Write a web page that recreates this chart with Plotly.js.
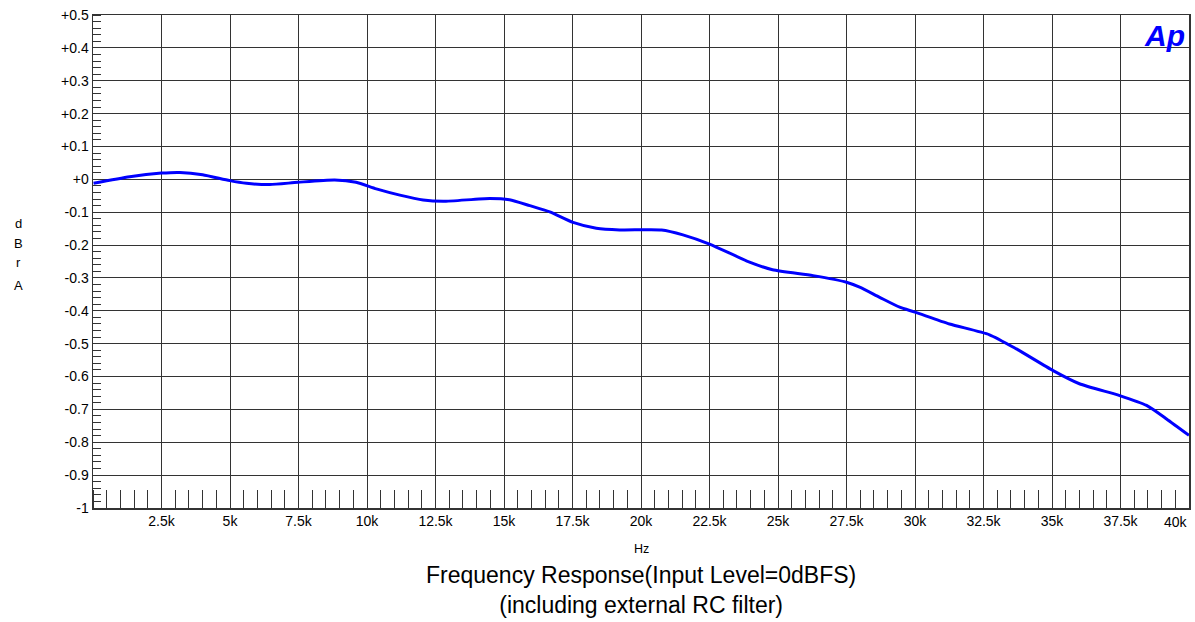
<!DOCTYPE html>
<html>
<head>
<meta charset="utf-8">
<script src="https://cdn.plot.ly/plotly-3.0.1.min.js"></script>
<style>
html,body{margin:0;padding:0;background:#fff;}
#chart{width:1195px;height:622px;}
</style>
</head>
<body>
<div id="chart"></div>
<script>
// Frequency (Hz)
const freqHz = [20, 1340, 2500, 3170, 4000, 4990, 5600, 6450, 7480, 8820, 9600, 10340, 11200, 12050, 12780, 14480, 15200, 15940, 16670, 17520, 18370, 19220, 20750, 21530, 22500, 23960, 24800, 26280, 27500, 27980, 28710, 29440, 30000, 31260, 32720, 33700, 35040, 36000, 37470, 38450, 39180, 40000];
// Level (dBr A)
const levelDbr = [-0.012, 0.008, 0.019, 0.021, 0.014, -0.004, -0.012, -0.016, -0.009, -0.002, -0.009, -0.029, -0.048, -0.063, -0.067, -0.058, -0.062, -0.080, -0.099, -0.131, -0.149, -0.154, -0.154, -0.169, -0.197, -0.252, -0.275, -0.293, -0.313, -0.328, -0.359, -0.389, -0.404, -0.440, -0.473, -0.516, -0.582, -0.622, -0.658, -0.688, -0.729, -0.779];

const xTickVals = [2500, 5000, 7500, 10000, 12500, 15000, 17500, 20000, 22500, 25000, 27500, 30000, 32500, 35000, 37500, 40000];
const xTickText = ["2.5k", "5k", "7.5k", "10k", "12.5k", "15k", "17.5k", "20k", "22.5k", "25k", "27.5k", "30k", "32.5k", "35k", "37.5k", "40k"];
const yTickVals = [0.5, 0.4, 0.3, 0.2, 0.1, 0, -0.1, -0.2, -0.3, -0.4, -0.5, -0.6, -0.7, -0.8, -0.9, -1];
const yTickText = ["+0.5", "+0.4", "+0.3", "+0.2", "+0.1", "+0", "-0.1", "-0.2", "-0.3", "-0.4", "-0.5", "-0.6", "-0.7", "-0.8", "-0.9", "-1"];

const titleLine1 = "Frequency Response(Input Level=0dBFS)";
const titleLine2 = "(including external RC filter)";
const yTitleLetters = ["d", "B", "r", "A"];

const font = "Liberation Sans, Arial, sans-serif";

const trace = {
  x: freqHz, y: levelDbr, type: 'scatter', mode: 'lines',
  line: {color: '#0000ff', width: 3, shape: 'spline', smoothing: 0.6},
  hoverinfo: 'skip'
};

const gridColor = '#333333';

// last x tick label is drawn as an annotation (it sits at the right plot edge)
const lastIdx = xTickVals.length - 1;

const letterY = [223, 243, 262, 285];
const annotations = [
  {xref: 'paper', yref: 'paper', x: 0.5, y: -0.083, text: 'Hz', showarrow: false, font: {family: font, size: 12.5, color: '#000'}, xanchor: 'center', yanchor: 'middle'},
  {xref: 'paper', yref: 'paper', x: 0.5, y: -(590-508)/493, text: titleLine1 + '<br>' + titleLine2, showarrow: false, font: {family: font, size: 23, color: '#000'}, xanchor: 'center', yanchor: 'middle', align: 'center'},
  {xref: 'paper', yref: 'paper', x: (1176-93)/1096, y: -(522-508)/493, text: xTickText[lastIdx], showarrow: false, font: {family: font, size: 14, color: '#000'}, xanchor: 'center', yanchor: 'middle'},
  {xref: 'paper', yref: 'paper', x: (1164-93)/1096, y: (508-35)/493, text: '<b><i>Ap</i></b>', showarrow: false, font: {family: font, size: 30, color: '#0000ff'}, xanchor: 'center', yanchor: 'middle'}
];
yTitleLetters.forEach((ch, i) => {
  annotations.push({xref: 'paper', yref: 'paper', x: (18-93)/1096, y: (508-letterY[i])/493, text: ch, showarrow: false, font: {family: font, size: 13, color: '#000'}, xanchor: 'center', yanchor: 'middle'});
});

const layout = {
  width: 1195, height: 622,
  margin: {l: 93, r: 6, t: 15, b: 114},
  paper_bgcolor: '#ffffff', plot_bgcolor: '#ffffff',
  showlegend: false,
  font: {family: font, color: '#000', size: 12},
  xaxis: {
    range: [0, 40000], tickmode: 'array', tickvals: xTickVals.slice(0, lastIdx), ticktext: xTickText.slice(0, lastIdx),
    showgrid: true, gridcolor: gridColor, gridwidth: 1,
    zeroline: false, showline: true, linecolor: '#333', linewidth: 1.5, mirror: true,
    ticks: '', tickfont: {family: font, size: 14, color: '#000'},
    minor: {tickmode: 'linear', tick0: 0, dtick: 500, ticks: 'inside', ticklen: 18, tickcolor: '#333', tickwidth: 1, showgrid: false},
    fixedrange: true
  },
  yaxis: {
    range: [-1, 0.5], tickmode: 'array', tickvals: yTickVals, ticktext: yTickText,
    showgrid: true, gridcolor: gridColor, gridwidth: 1,
    zeroline: false, showline: true, linecolor: '#333', linewidth: 1.5, mirror: true,
    ticks: '', tickfont: {family: font, size: 14, color: '#000'},
    minor: {tickmode: 'linear', tick0: 0, dtick: 0.02, ticks: 'inside', ticklen: 8, tickcolor: '#333', tickwidth: 1, showgrid: false},
    fixedrange: true
  },
  annotations: annotations
};

Plotly.newPlot('chart', [trace], layout, {displayModeBar: false, staticPlot: true});
</script>
</body>
</html>
